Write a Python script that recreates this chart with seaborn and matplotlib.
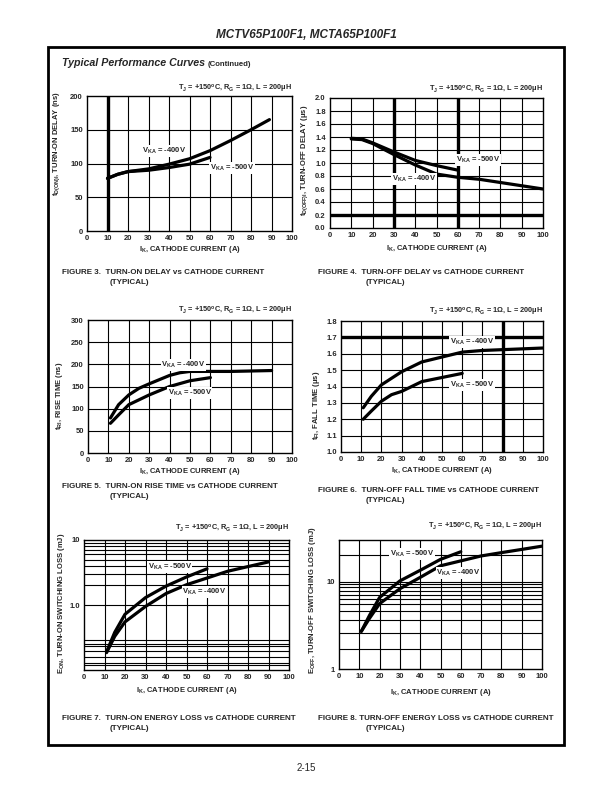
import numpy as np
import pandas as pd
import matplotlib
matplotlib.use("Agg")
import matplotlib.pyplot as plt
from matplotlib.patches import Rectangle
import seaborn as sns

# values, TJ=+150C, RG=1 ohm, L=200uH
# fig 3: turn-on delay (ns)
f3_i_400 = [10, 15, 20, 30, 40, 50, 60, 70, 80, 89]
f3_v_400 = [78, 84, 88, 92, 99, 107, 119, 134, 150, 165]
f3_i_500 = [10, 15, 20, 30, 40, 50, 60]
f3_v_500 = [78, 84, 88, 90, 94, 99, 109]

# fig 4: turn-off delay (us)
f4_i_400 = [10, 15, 20, 30, 40, 50, 60, 70, 80, 90, 100]
f4_v_400 = [1.37, 1.36, 1.30, 1.13, 0.97, 0.83, 0.78, 0.75, 0.70, 0.65, 0.60]
f4_i_500 = [10, 15, 20, 30, 40, 50, 60]
f4_v_500 = [1.38, 1.37, 1.31, 1.17, 1.04, 0.96, 0.89]

# fig 5: rise time (ns)
f5_i_400 = [11, 15, 20, 25, 30, 40, 45, 50, 60, 70, 80, 90]
f5_v_400 = [79, 109, 131, 146, 156, 175, 181, 184, 184, 184, 185, 186]
f5_i_500 = [11, 15, 20, 25, 30, 40, 50, 60]
f5_v_500 = [67, 86, 109, 120, 131, 150, 163, 170]

# fig 6: fall time (us)
f6_i_400 = [11, 15, 20, 30, 40, 50, 60, 70, 80, 100]
f6_v_400 = [1.27, 1.34, 1.41, 1.49, 1.55, 1.58, 1.61, 1.62, 1.625, 1.635]
f6_i_500 = [11, 15, 20, 25, 30, 40, 50, 60]
f6_v_500 = [1.20, 1.25, 1.31, 1.35, 1.37, 1.43, 1.455, 1.48]

# fig 7: turn-on energy (mJ)
f7_i_400 = [11, 15, 20, 30, 40, 50, 60, 70, 80, 90]
f7_v_400 = [0.185, 0.33, 0.55, 0.95, 1.5, 2.05, 2.6, 3.3, 3.9, 4.6]
f7_i_500 = [11, 15, 20, 30, 40, 50, 60]
f7_v_500 = [0.19, 0.38, 0.72, 1.3, 1.95, 2.7, 3.6]

# fig 8: turn-off energy (mJ)
f8_i_400 = [11, 15, 20, 30, 40, 50, 60, 70, 80, 90, 100]
f8_v_400 = [2.7, 3.8, 5.6, 8.3, 11.2, 15.2, 17.3, 19.7, 21.5, 23.4, 25.5]
f8_i_500 = [11, 15, 20, 30, 40, 50, 60]
f8_v_500 = [2.7, 4.1, 6.6, 10.2, 13.5, 18, 22]

sns.set_style("white")
plt.rcParams['font.family'] = ['Liberation Sans', 'DejaVu Sans']
plt.rcParams['font.weight'] = 'bold'
plt.rcParams['mathtext.fontset'] = 'custom'
plt.rcParams['mathtext.rm'] = 'Liberation Sans:bold'
plt.rcParams['mathtext.default'] = 'rm'

W, H = 612, 792
fig = plt.figure(figsize=(W / 100, H / 100), dpi=100)


def add_ax(l, t, r, b):
    return fig.add_axes([l / W, 1 - b / H, (r - l) / W, (b - t) / H])


def draw(ax, xa, ya, xb, yb):
    df = pd.DataFrame({"I": xa + xb, "v": ya + yb,
                       "VKA": ["-400V"] * len(xa) + ["-500V"] * len(xb)})
    sns.lineplot(data=df, x="I", y="v", hue="VKA", palette=["black", "black"],
                 linewidth=2.3, legend=False, ax=ax, zorder=3)


def style(ax, ylim, yticks, ylabels, ygrid, ylab, ylab_xy, xlab_y, cond_y,
          bold_x=(), bold_y=(), log=False):
    if log:
        ax.set_yscale("log")
    ax.set_xlim(0, 100)
    ax.set_ylim(*ylim)
    ax.set_xticks(range(0, 101, 10))
    ax.set_yticks(yticks)
    ax.set_yticklabels(ylabels)
    ax.yaxis.set_minor_locator(matplotlib.ticker.NullLocator())
    for v in range(10, 100, 10):
        ax.axvline(v, color="black", lw=0.8, zorder=1)
    for v in ygrid:
        ax.axhline(v, color="black", lw=0.8, zorder=1)
    for v in bold_x:
        ax.axvline(v, color="black", lw=2.4, zorder=2)
    for v in bold_y:
        ax.axhline(v, color="black", lw=2.4, zorder=2)
    ax.tick_params(length=0, labelsize=5.5, pad=3)
    for lab in ax.get_xticklabels() + ax.get_yticklabels():
        lab.set_fontweight("bold")
    for s in ax.spines.values():
        s.set_color("black")
        s.set_linewidth(1.0)
    ax.set_xlabel("I$_{K}$, CATHODE CURRENT (A)", fontsize=5.5, fontweight="bold")
    ax.xaxis.set_label_coords(0.5, xlab_y)
    ax.set_ylabel(ylab, fontsize=5.5, fontweight="bold")
    ax.yaxis.set_label_coords(*ylab_xy)
    ax.text(1.0, cond_y, "T$_{J}$ = +150$^{o}$C, R$_{G}$ = 1Ω, L = 200μH",
            transform=ax.transAxes, ha="right", va="center", fontsize=5.3,
            fontweight="bold")


def vlabel(ax, x, y, volts):
    ax.text(x, y, "V$_{KA}$ = " + volts, fontsize=5.5, ha="left", va="center",
            fontweight="bold", zorder=5,
            bbox=dict(fc="white", ec="none", pad=0.6))


# figure 3
ax1 = add_ax(87, 96, 292, 231)
draw(ax1, f3_i_400, f3_v_400, f3_i_500, f3_v_500)
style(ax1, (0, 200), range(0, 201, 50), [str(v) for v in range(0, 201, 50)],
      [50, 100, 150], "t$_{D(ON)I}$, TURN-ON DELAY (ns)", (-0.124, 0.65),
      -0.093, 1.05, bold_x=[10])
vlabel(ax1, 27, 118, "-400V")
vlabel(ax1, 60, 93, "-500V")

# figure 4
ax2 = add_ax(330, 98, 543, 228)
draw(ax2, f4_i_400, f4_v_400, f4_i_500, f4_v_500)
t2 = np.round(np.arange(0, 2.01, 0.2), 1)
style(ax2, (0, 2.0), t2, ["%.1f" % v for v in t2], t2[1:-1],
      "t$_{D(OFF)I}$, TURN-OFF DELAY (μs)", (-0.092, 0.52), -0.119, 1.062,
      bold_x=[30, 60], bold_y=[0.2])
vlabel(ax2, 59, 1.05, "-500V")
vlabel(ax2, 29, 0.76, "-400V")

# figure 5
ax3 = add_ax(88, 320, 292, 453)
draw(ax3, f5_i_400, f5_v_400, f5_i_500, f5_v_500)
style(ax3, (0, 300), range(0, 301, 50), [str(v) for v in range(0, 301, 50)],
      range(50, 300, 50), "t$_{RI}$, RISE TIME (ns)", (-0.112, 0.43),
      -0.10, 1.068)
vlabel(ax3, 36, 199, "-400V")
vlabel(ax3, 39, 135, "-500V")

# figure 6
ax4 = add_ax(341, 321, 543, 452)
draw(ax4, f6_i_400, f6_v_400, f6_i_500, f6_v_500)
t4 = np.round(np.arange(1.0, 1.81, 0.1), 1)
style(ax4, (1.0, 1.8), t4, ["%.1f" % v for v in t4], t4[1:-1],
      "t$_{FI}$, FALL TIME (μs)", (-0.095, 0.355), -0.103, 1.071,
      bold_x=[80], bold_y=[1.7])
vlabel(ax4, 54, 1.671, "-400V")
vlabel(ax4, 54, 1.41, "-500V")

# figure 7
ax5 = add_ax(84, 540, 289, 670)
draw(ax5, f7_i_400, f7_v_400, f7_i_500, f7_v_500)
g5 = [0.118, 0.13, 0.16, 0.195, 0.23, 0.25, 0.29, 1.0, 2, 3, 4, 5, 6, 7, 8, 9]
style(ax5, (0.1, 10), [1.0, 10], ["1.0", "10"], g5,
      "E$_{ON}$, TURN-ON SWITCHING LOSS (mJ)", (-0.085, 0.515), -0.112, 1.085,
      log=True)
vlabel(ax5, 31, 3.9, "-500V")
vlabel(ax5, 48, 1.6, "-400V")

# figure 8
ax6 = add_ax(339, 540, 542, 669)
draw(ax6, f8_i_400, f8_v_400, f8_i_500, f8_v_500)
g6 = [1.7, 2.55, 3.6, 4.6, 5.6, 6.4, 7.1, 7.9, 8.65, 9.3, 10, 20]
style(ax6, (1, 30), [1, 10], ["1", "10"], g6,
      "E$_{OFF}$, TURN-OFF SWITCHING LOSS (mJ)", (-0.102, 0.535), -0.136, 1.1,
      log=True)
vlabel(ax6, 25, 20.6, "-500V")
vlabel(ax6, 48, 12.5, "-400V")

# page furniture
fig.add_artist(Rectangle((48 / W, 1 - 745 / H), (564 - 48) / W, (745 - 47) / H,
                         transform=fig.transFigure, fill=False, lw=2.0, ec="black"))
fig.text(306 / W, 1 - 35 / H, "MCTV65P100F1, MCTA65P100F1", ha="center", va="center",
         fontsize=8.5, fontstyle="italic", fontweight="bold")
fig.text(62 / W, 1 - 63 / H, "Typical Performance Curves", ha="left", va="center",
         fontsize=7.7, fontstyle="italic", fontweight="bold")
fig.text(208 / W, 1 - 64 / H, "(Continued)", ha="left", va="center", fontsize=5.6,
         fontweight="bold")

captions = [
    (62, 272, "FIGURE 3.  TURN-ON DELAY vs CATHODE CURRENT"),
    (318, 272, "FIGURE 4.  TURN-OFF DELAY vs CATHODE CURRENT"),
    (62, 486, "FIGURE 5.  TURN-ON RISE TIME vs CATHODE CURRENT"),
    (318, 490, "FIGURE 6.  TURN-OFF FALL TIME vs CATHODE CURRENT"),
    (62, 718, "FIGURE 7.  TURN-ON ENERGY LOSS vs CATHODE CURRENT"),
    (318, 718, "FIGURE 8. TURN-OFF ENERGY LOSS vs CATHODE CURRENT"),
]
for x, y, txt in captions:
    fig.text(x / W, 1 - y / H, txt, ha="left", va="center", fontsize=5.8,
             fontweight="bold")
    fig.text((x + 48) / W, 1 - (y + 11) / H, "(TYPICAL)", ha="left", va="center",
             fontsize=5.8, fontweight="bold")

fig.text(306 / W, 1 - 768 / H, "2-15", ha="center", va="center", fontsize=7,
         fontweight="normal")

fig.savefig("out.png", dpi=100)
